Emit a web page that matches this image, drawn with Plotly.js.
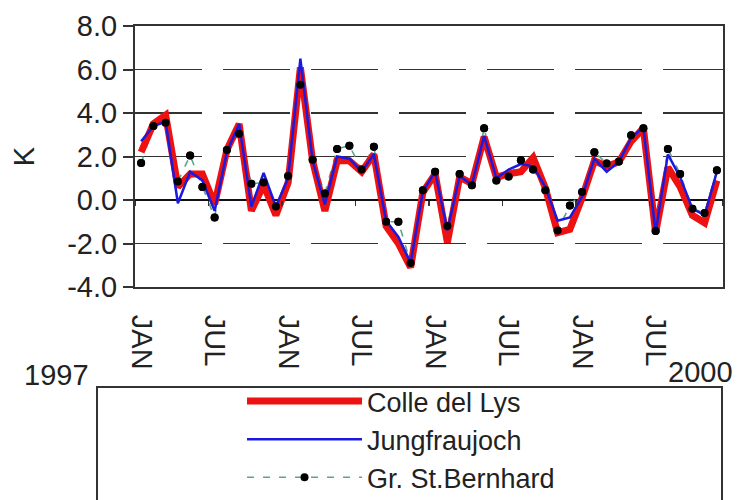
<!DOCTYPE html>
<html>
<head>
<meta charset="utf-8">
<script src="https://cdn.plot.ly/plotly-3.0.1.min.js"></script>
<style>html,body{margin:0;padding:0;background:#fff;}#chart{width:739px;height:500px;}</style>
</head>
<body>
<div id="chart"></div>
<script>
// ---- data (monthly anomalies, K), Jan 1997 - Dec 2000 ----
const years = [1997, 1998, 1999, 2000];
const monthNames = ['JAN','FEB','MAR','APR','MAY','JUN','JUL','AUG','SEP','OCT','NOV','DEC'];
const labelMonths = ['JAN', 'JUL'];
const yearNotes = ['1997', '2000'];
const yTicks = [-4, -2, 0, 2, 4, 6, 8];

const colleDelLys = [2.2, 3.5, 3.9, 0.6, 1.2, 1.2, -0.2, 2.3, 3.5, -0.5, 0.7, -0.7,
                     0.8, 6.1, 1.8, -0.5, 1.8, 1.8, 1.3, 2.1, -1.2, -2.0, -3.1, 0.35,
                     1.2, -1.95, 1.05, 0.75, 2.9, 1.05, 1.2, 1.3, 1.95, 0.55, -1.5, -1.35,
                     0.1, 1.8, 1.55, 1.75, 2.7, 3.3, -1.5, 1.5, 0.6, -0.7, -1.05, 0.9];
const jungfraujoch = [2.7, 3.4, 3.6, -0.15, 1.3, 0.9, -0.5, 2.2, 3.5, -0.3, 1.25, -0.3,
                      1.0, 6.5, 1.8, -0.2, 2.0, 1.9, 1.3, 2.1, -0.95, -1.7, -2.9, 0.4,
                      1.3, -1.4, 1.1, 0.7, 2.95, 1.0, 1.4, 1.65, 1.55, 0.6, -0.95, -0.8,
                      0.15, 1.9, 1.3, 1.75, 2.85, 3.35, -1.5, 2.1, 1.05, -0.4, -0.7, 1.3];
const grStBernhard = [1.7, 3.4, 3.55, 0.85, 2.05, 0.6, -0.8, 2.3, 3.05, 0.75, 0.8, -0.3,
                      1.1, 5.3, 1.85, 0.3, 2.35, 2.5, 1.4, 2.45, -1.0, -1.0, -2.9, 0.45,
                      1.3, -1.2, 1.2, 0.68, 3.3, 0.9, 1.08, 1.83, 1.4, 0.45, -1.4, -0.25,
                      0.37, 2.2, 1.68, 1.77, 2.98, 3.3, -1.42, 2.35, 1.2, -0.4, -0.6, 1.37];
const seriesNames = ['Colle del Lys', 'Jungfraujoch', 'Gr. St.Bernhard'];

// ---- derived categories ----
const categories = [];
years.forEach(y => monthNames.forEach(m => categories.push(m + ' ' + y)));
const tickCats = categories.filter(c => labelMonths.includes(c.split(' ')[0]));
const tickText = tickCats.map(c => c.split(' ')[0]);
const nCat = categories.length;
const boundaryTicks = [];
for (let i = 0; i <= nCat; i += 6) boundaryTicks.push(i - 0.5);

const FONT = 'Liberation Sans, Arial, sans-serif';
const FS = 29;
const TXT = '#222';
const AX = '#333';

const traces = [
  { // GSB dashed line (drawn below the others)
    x: categories, y: grStBernhard, name: seriesNames[2], type: 'scatter', mode: 'lines+markers',
    line: { color: '#5aa58c', width: 1.6, dash: '7px,9px' },
    marker: { color: '#000', size: 8 }, legendrank: 3
  },
  {
    x: categories, y: colleDelLys, name: seriesNames[0], type: 'scatter', mode: 'lines',
    line: { color: '#ee1111', width: 7 }, legendrank: 1
  },
  {
    x: categories, y: jungfraujoch, name: seriesNames[1], type: 'scatter', mode: 'lines',
    line: { color: '#1a1adf', width: 2.5 }, legendrank: 2
  },
  { // GSB dots on top
    x: categories, y: grStBernhard, name: seriesNames[2], type: 'scatter', mode: 'markers',
    marker: { color: '#000', size: 8 }, showlegend: false, hoverinfo: 'skip'
  },
  { // helper trace so the zero-line tick axis is drawn
    x: [boundaryTicks[0]], y: [null], xaxis: 'x2', yaxis: 'y', type: 'scatter', mode: 'markers',
    showlegend: false, hoverinfo: 'skip'
  }
];

const layout = {
  width: 739, height: 500,
  margin: { l: 135, r: 16, t: 26, b: 213 },
  paper_bgcolor: '#fff', plot_bgcolor: '#fff',
  font: { family: FONT, size: FS, color: TXT },
  showlegend: true,
  xaxis: {
    type: 'category', categoryorder: 'array', categoryarray: categories,
    range: [-0.5, nCat - 0.5], automargin: false,
    tickmode: 'array', tickvals: tickCats, ticktext: tickText, tickangle: 90,
    ticks: '', ticklabelstandoff: 20,
    showgrid: false, zeroline: false,
    showline: true, mirror: true, linecolor: AX, linewidth: 2,
    tickfont: { family: FONT, size: FS, color: TXT }
  },
  xaxis2: {
    overlaying: 'x', anchor: 'free', position: 1 / 3, side: 'bottom',
    range: [-0.5, nCat - 0.5], automargin: false,
    tickmode: 'array', tickvals: boundaryTicks, showticklabels: false,
    ticks: 'outside', ticklen: 5, tickwidth: 1.5, tickcolor: AX,
    showgrid: false, zeroline: false, showline: false
  },
  yaxis: {
    range: [-4, 8], tickmode: 'array', tickvals: yTicks, ticktext: yTicks.map(v => v.toFixed(1)),
    automargin: false,
    ticks: 'outside', ticklen: 10, tickwidth: 2, tickcolor: AX,
    showgrid: true, gridcolor: AX, gridwidth: 1.6, griddash: '67px,21px',
    zeroline: true, zerolinecolor: '#111', zerolinewidth: 1.8,
    showline: true, mirror: true, linecolor: AX, linewidth: 2,
    tickfont: { family: FONT, size: FS, color: TXT },
    title: { text: 'K', standoff: 24, font: { family: FONT, size: FS, color: TXT } }
  },
  legend: {
    xref: 'paper', yref: 'container',
    x: 0.182, y: 0.246, xanchor: 'left', yanchor: 'top',
    bgcolor: 'rgba(0,0,0,0)', borderwidth: 0, itemwidth: 115,
    font: { family: FONT, size: 27, color: TXT }, tracegroupgap: 0
  },
  shapes: [
    { type: 'rect', xref: 'paper', yref: 'paper', x0: -0.0646, x1: 0.9983, y0: -0.383, y1: -0.9,
      line: { color: AX, width: 2 }, fillcolor: 'rgba(0,0,0,0)', layer: 'below' }
  ],
  annotations: [
    { text: yearNotes[0], xref: 'paper', yref: 'paper', x: -0.134, y: -0.337, showarrow: false,
      xanchor: 'center', yanchor: 'middle', font: { family: FONT, size: FS, color: TXT } },
    { text: yearNotes[1], xref: 'paper', yref: 'paper', x: 0.961, y: -0.326, showarrow: false,
      xanchor: 'center', yanchor: 'middle', font: { family: FONT, size: FS, color: TXT } }
  ]
};

Plotly.newPlot('chart', traces, layout, { staticPlot: true, displayModeBar: false });
</script>
</body>
</html>
